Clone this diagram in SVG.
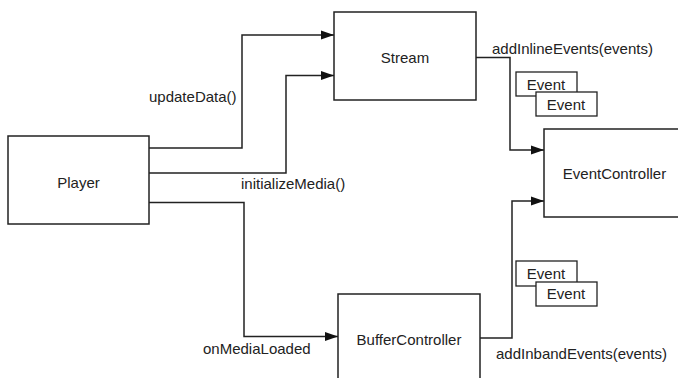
<svg xmlns="http://www.w3.org/2000/svg" width="678" height="378" viewBox="0 0 678 378">
  <defs>
    <style>
      .box { fill: #fff; stroke: #222; stroke-width: 1.5; }
      .ev { fill: #fff; stroke: #222; stroke-width: 1.3; }
      .wire { fill: none; stroke: #222; stroke-width: 1.5; }
      text { font-family: "Liberation Sans", Arial, Helvetica, sans-serif; font-size: 15px; fill: #222; }
      .c { text-anchor: middle; dominant-baseline: central; }
    </style>
    <marker id="arrow" viewBox="0 0 13 10" refX="13" refY="5" markerWidth="13" markerHeight="10" markerUnits="userSpaceOnUse" orient="auto">
      <path d="M0,0.5 L13,5 L0,9.5 Z" fill="#111"/>
    </marker>
  </defs>
  <rect width="678" height="378" fill="#fff"/>

  <!-- connectors -->
  <g id="connectors">
    <path class="wire" d="M149,148 H242 V35 H334" marker-end="url(#arrow)"/>
    <path class="wire" d="M149,173 H286 V75.5 H334" marker-end="url(#arrow)"/>
    <path class="wire" d="M149,202.5 H244 V336.5 H338" marker-end="url(#arrow)"/>
    <path class="wire" d="M476,57.5 H510 V150 H544" marker-end="url(#arrow)"/>
    <path class="wire" d="M480,338 H512 V201 H544" marker-end="url(#arrow)"/>
    <text x="149" y="96" dominant-baseline="central">updateData()</text>
    <text x="241" y="183" dominant-baseline="central">initializeMedia()</text>
    <text x="203" y="348" dominant-baseline="central">onMediaLoaded</text>
    <text x="492" y="48" dominant-baseline="central">addInlineEvents(events)</text>
    <text x="496" y="353" dominant-baseline="central">addInbandEvents(events)</text>
  </g>

  <g id="player">
    <rect class="box" x="8" y="136" width="141" height="88"/>
    <text class="c" x="78.5" y="182">Player</text>
  </g>
  <g id="stream">
    <rect class="box" x="334" y="12" width="142" height="88"/>
    <text class="c" x="405" y="57">Stream</text>
  </g>
  <g id="eventController">
    <rect class="box" x="544" y="129" width="142" height="88"/>
    <text class="c" x="614.5" y="173">EventController</text>
  </g>
  <g id="bufferController">
    <rect class="box" x="338" y="294" width="142" height="88"/>
    <text class="c" x="409" y="339">BufferController</text>
  </g>

  <g id="inlineEvents">
    <rect class="ev" x="516" y="72" width="61" height="24"/>
    <text class="c" x="546" y="84">Event</text>
    <rect class="ev" x="536" y="92" width="61" height="24"/>
    <text class="c" x="566" y="104">Event</text>
  </g>
  <g id="inbandEvents">
    <rect class="ev" x="516" y="261" width="61" height="25"/>
    <text class="c" x="546" y="273">Event</text>
    <rect class="ev" x="536" y="282" width="61" height="24"/>
    <text class="c" x="566" y="293.5">Event</text>
  </g>
</svg>
